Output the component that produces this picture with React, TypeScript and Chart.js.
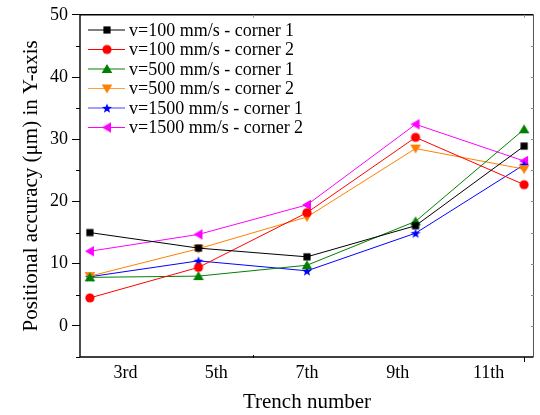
import React, { useEffect, useRef } from 'react';
import { Chart, registerables } from 'chart.js';

Chart.register(...registerables);

const categories = ['3rd', '5th', '7th', '9th', '11th'];
const seriesLabels = [
  'v=100 mm/s - corner 1',
  'v=100 mm/s - corner 2',
  'v=500 mm/s - corner 1',
  'v=500 mm/s - corner 2',
  'v=1500 mm/s - corner 1',
  'v=1500 mm/s - corner 2',
];
const v100c1 = [15.0, 12.5, 11.1, 16.1, 28.9];
const v100c2 = [4.5, 9.4, 18.2, 30.3, 22.7];
const v500c1 = [7.8, 8.0, 9.75, 16.8, 31.6];
const v500c2 = [8.0, 12.4, 17.5, 28.5, 25.2];
const v1500c1 = [7.9, 10.45, 8.85, 14.9, 25.9];
const v1500c2 = [12.0, 14.7, 19.45, 32.4, 26.5];
const yTicks = [0, 10, 20, 30, 40, 50];
const yMinorTicks = [-5, 5, 15, 25, 35, 45];

const seriesValues = [v100c1, v100c2, v500c1, v500c2, v1500c1, v1500c2];
const seriesColors = ['#000000', '#FF0000', '#008000', '#FF8000', '#0000FF', '#FF00FF'];
const legendLineColors = ['#000000', '#FF0000', '#008000', '#FFA040', '#4040FF', '#FF00FF'];
const markerKinds = ['square', 'circle', 'triUp', 'triDown', 'star', 'triLeft'];

const FONT = '"Liberation Serif", "Times New Roman", serif';

function makeMarker(kind: string, color: string): HTMLCanvasElement {
  const c = document.createElement('canvas');
  c.width = 14;
  c.height = 14;
  const ctx = c.getContext('2d')!;
  ctx.fillStyle = color;
  const cx = 7, cy = 7;
  ctx.beginPath();
  if (kind === 'square') {
    ctx.rect(cx - 3.6, cy - 3.6, 7.2, 7.2);
  } else if (kind === 'circle') {
    ctx.arc(cx, cy, 4.6, 0, Math.PI * 2);
  } else if (kind === 'triUp') {
    ctx.moveTo(cx, cy - 5);
    ctx.lineTo(cx + 5.3, cy + 4);
    ctx.lineTo(cx - 5.3, cy + 4);
    ctx.closePath();
  } else if (kind === 'triDown') {
    ctx.moveTo(cx, cy + 5);
    ctx.lineTo(cx + 5.3, cy - 4);
    ctx.lineTo(cx - 5.3, cy - 4);
    ctx.closePath();
  } else if (kind === 'triLeft') {
    ctx.moveTo(cx - 5, cy);
    ctx.lineTo(cx + 4, cy - 5.3);
    ctx.lineTo(cx + 4, cy + 5.3);
    ctx.closePath();
  } else if (kind === 'star') {
    const R = 5.2, r = 2.2;
    for (let i = 0; i < 10; i++) {
      const rad = i % 2 === 0 ? R : r;
      const a = -Math.PI / 2 + (i * Math.PI) / 5;
      const x = cx + rad * Math.cos(a);
      const y = cy + 0.6 + rad * Math.sin(a);
      if (i === 0) ctx.moveTo(x, y);
      else ctx.lineTo(x, y);
    }
    ctx.closePath();
  }
  ctx.fill();
  return c;
}

export default function App() {
  const ref = useRef<HTMLCanvasElement | null>(null);

  useEffect(() => {
    if (!ref.current) return;
    const markers = markerKinds.map((k, i) => makeMarker(k, seriesColors[i]));

    const framePlugin = {
      id: 'frameLegend',
      afterDraw(chart: any) {
        const { ctx, chartArea } = chart;
        const { left, right, top, bottom } = chartArea;
        const ys = chart.scales.y;
        const xs = chart.scales.xv;
        ctx.save();
        ctx.strokeStyle = '#000';
        ctx.lineWidth = 1.4;
        ctx.beginPath();
        ctx.moveTo(left, top);
        ctx.lineTo(right - 0.5, top);
        ctx.moveTo(left, top);
        ctx.lineTo(left, bottom);
        ctx.lineTo(right - 0.5, bottom);
        ctx.stroke();
        ctx.lineWidth = 1;
        ctx.strokeStyle = '#555';
        ctx.beginPath();
        ctx.moveTo(right - 0.5, top);
        ctx.lineTo(right - 0.5, bottom);
        ctx.stroke();
        // minor ticks left (outward)
        ctx.strokeStyle = '#000';
        ctx.lineWidth = 1;
        ctx.beginPath();
        yMinorTicks.forEach((v) => {
          const y = Math.round(ys.getPixelForValue(v)) + 0.5;
          ctx.moveTo(left - 4, y);
          ctx.lineTo(left, y);
        });
        ctx.stroke();
        // right inward ticks
        ctx.strokeStyle = '#888';
        ctx.beginPath();
        [...yTicks, ...yMinorTicks].forEach((v) => {
          if (v <= -5 || v >= 50) return;
          const y = Math.round(ys.getPixelForValue(v)) + 0.5;
          ctx.moveTo(right - 3, y);
          ctx.lineTo(right, y);
        });
        ctx.stroke();
        // x small ticks
        ctx.strokeStyle = '#000';
        ctx.beginPath();
        const xa = Math.round(xs.getPixelForValue(4)) + 0.5;
        ctx.moveTo(xa, bottom);
        ctx.lineTo(xa, bottom + 5);
        const xb = Math.round(xs.getPixelForValue(1.5)) + 0.5;
        ctx.moveTo(xb, bottom - 2);
        ctx.lineTo(xb, bottom + 1);
        ctx.stroke();
        ctx.strokeStyle = '#999';
        ctx.beginPath();
        ctx.moveTo(xa, top);
        ctx.lineTo(xa, top + 3);
        ctx.moveTo(xb, top);
        ctx.lineTo(xb, top + 3);
        ctx.stroke();

        // legend
        ctx.font = `18px ${FONT}`;
        ctx.textBaseline = 'middle';
        ctx.textAlign = 'left';
        seriesLabels.forEach((lab, i) => {
          const y = 30 + i * 19.5;
          ctx.strokeStyle = legendLineColors[i];
          ctx.lineWidth = 1;
          ctx.beginPath();
          ctx.moveTo(88, y);
          ctx.lineTo(125, y);
          ctx.stroke();
          const m = markers[i];
          ctx.drawImage(m, 107 - m.width / 2, y - m.height / 2);
          ctx.fillStyle = '#000';
          ctx.fillText(lab, 129, y + 1);
        });
        ctx.restore();
      },
    };

    const chart = new Chart(ref.current, {
      type: 'line',
      data: {
        datasets: seriesValues.map((vals, i) => ({
          label: seriesLabels[i],
          data: vals.map((v, j) => ({ x: j, y: v })),
          borderColor: seriesColors[i],
          backgroundColor: seriesColors[i],
          borderWidth: 1,
          pointStyle: markers[i],
          pointRadius: 5,
          xAxisID: 'xv',
          yAxisID: 'y',
          tension: 0,
        })),
      },
      options: {
        animation: false,
        responsive: false,
        layout: { padding: { top: 14, right: 1, left: 0, bottom: 0 } },
        plugins: { legend: { display: false }, tooltip: { enabled: false } },
        scales: {
          x: {
            type: 'category',
            labels: categories,
            offset: true,
            position: 'bottom',
            grid: { display: false, drawTicks: false },
            border: { display: false },
            ticks: { font: { family: FONT, size: 18 }, color: '#000', padding: 5, maxRotation: 0, autoSkip: false },
            title: {
              display: true,
              text: 'Trench number',
              font: { family: FONT, size: 21 },
              color: '#000',
              padding: { top: 0, bottom: 0 },
            },
            afterFit: (s: any) => {
              s.height = 58;
            },
          },
          xv: {
            type: 'linear',
            display: false,
            axis: 'x',
            min: -0.0911,
            max: 4.0911,
          },
          y: {
            type: 'linear',
            position: 'left',
            min: -5,
            max: 50,
            afterBuildTicks: (s: any) => {
              s.ticks = yTicks.map((v) => ({ value: v }));
            },
            grid: { drawOnChartArea: false, drawTicks: true, tickLength: 8, color: '#000', lineWidth: 1 },
            border: { display: false },
            ticks: { font: { family: FONT, size: 18 }, color: '#000', padding: 4 },
            title: {
              display: true,
              text: 'Positional accuracy (μm) in Y-axis',
              font: { family: FONT, size: 21 },
              color: '#000',
              padding: { top: 19, bottom: 0 },
            },
            afterFit: (s: any) => {
              s.width = 80;
            },
          },
        },
      },
      plugins: [framePlugin],
    } as any);

    return () => chart.destroy();
  }, []);

  return (
    <div style={{ position: 'absolute', left: 0, top: 0, width: 540, height: 415, background: '#fff' }}>
      <canvas ref={ref} width={540} height={415} />
    </div>
  );
}
